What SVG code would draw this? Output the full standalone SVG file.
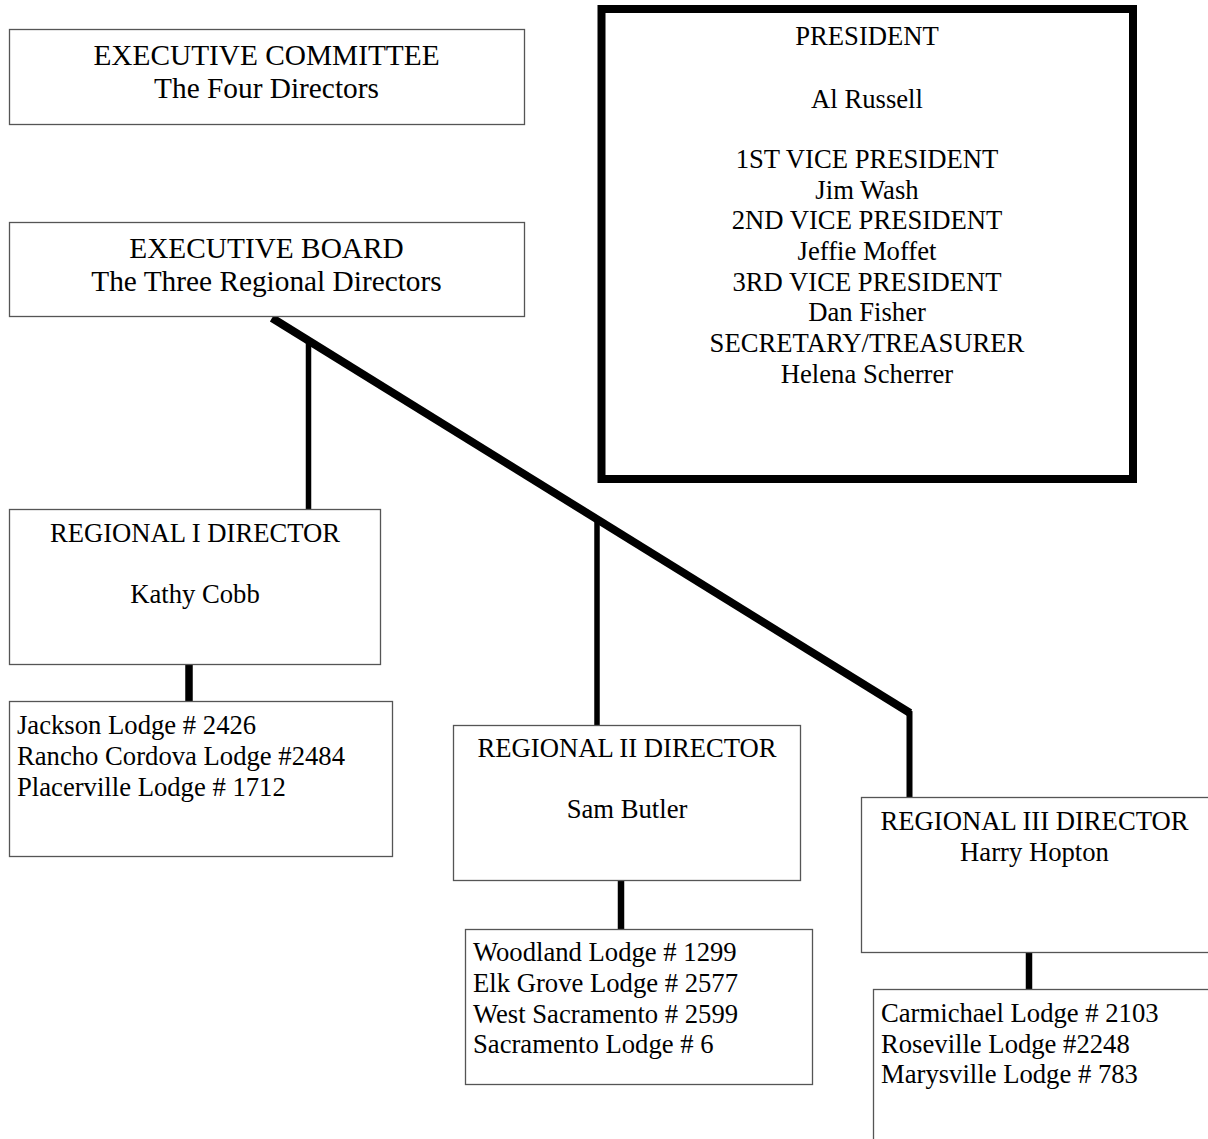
<svg xmlns="http://www.w3.org/2000/svg" width="1208" height="1139" viewBox="0 0 1208 1139">
<style>
text{font-family:"Liberation Serif","Times New Roman",serif;fill:#000}
.big{font-size:29.33px}
.t{font-size:26.67px}
.c{text-anchor:middle}
.box{fill:#fff;stroke:#555;stroke-width:1.3}
.ln{stroke:#000;fill:none}
</style>
<rect width="1208" height="1139" fill="#fff"/>
<g id="connectors">
<line class="ln" x1="272" y1="318" x2="910" y2="713" stroke-width="8"/>
<polyline class="ln" points="906,711 909.5,713 909.5,797" stroke-width="6"/>
<line class="ln" x1="308.5" y1="340" x2="308.5" y2="509" stroke-width="5.5"/>
<line class="ln" x1="597" y1="518" x2="597" y2="725" stroke-width="5.5"/>
<line class="ln" x1="189" y1="664" x2="189" y2="701" stroke-width="7.5"/>
<line class="ln" x1="621" y1="880" x2="621" y2="929" stroke-width="6.5"/>
<line class="ln" x1="1029" y1="952" x2="1029" y2="990" stroke-width="6.5"/>
</g>
<g id="exec-committee">
<rect class="box" x="9.5" y="29.5" width="515" height="95"/>
<text class="big c" x="266.5" y="65">EXECUTIVE COMMITTEE</text>
<text class="big c" x="266.5" y="97.5">The Four Directors</text>
</g>
<g id="exec-board">
<rect class="box" x="9.5" y="222.5" width="515" height="94"/>
<text class="big c" x="266.5" y="258">EXECUTIVE BOARD</text>
<text class="big c" x="266.5" y="290.5">The Three Regional Directors</text>
</g>
<g id="president">
<rect x="601.5" y="9" width="531.5" height="470" fill="#fff" stroke="#000" stroke-width="8"/>
<text class="t c" x="867" y="45">PRESIDENT</text>
<text class="t c" x="867" y="108">Al Russell</text>
<text class="t c" x="867" y="168">1ST VICE PRESIDENT</text>
<text class="t c" x="867" y="198.7">Jim Wash</text>
<text class="t c" x="867" y="229.3">2ND VICE PRESIDENT</text>
<text class="t c" x="867" y="260">Jeffie Moffet</text>
<text class="t c" x="867" y="290.7">3RD VICE PRESIDENT</text>
<text class="t c" x="867" y="321.3">Dan Fisher</text>
<text class="t c" x="867" y="352">SECRETARY/TREASURER</text>
<text class="t c" x="867" y="382.7">Helena Scherrer</text>
</g>
<g id="regional-1">
<rect class="box" x="9.5" y="509.5" width="371" height="155"/>
<text class="t c" x="195" y="542">REGIONAL I DIRECTOR</text>
<text class="t c" x="195" y="603">Kathy Cobb</text>
</g>
<g id="lodges-1">
<rect class="box" x="9.5" y="701.5" width="383" height="155"/>
<text class="t" x="17" y="734">Jackson Lodge # 2426</text>
<text class="t" x="17" y="765">Rancho Cordova Lodge #2484</text>
<text class="t" x="17" y="795.5">Placerville Lodge # 1712</text>
</g>
<g id="regional-2">
<rect class="box" x="453.5" y="725.5" width="347" height="155"/>
<text class="t c" x="627" y="757">REGIONAL II DIRECTOR</text>
<text class="t c" x="627" y="818">Sam Butler</text>
</g>
<g id="lodges-2">
<rect class="box" x="465.5" y="929.5" width="347" height="155"/>
<text class="t" x="473" y="961">Woodland Lodge # 1299</text>
<text class="t" x="473" y="992">Elk Grove Lodge # 2577</text>
<text class="t" x="473" y="1022.5">West Sacramento # 2599</text>
<text class="t" x="473" y="1053">Sacramento Lodge # 6</text>
</g>
<g id="regional-3">
<rect class="box" x="861.5" y="797.5" width="348" height="155"/>
<text class="t c" x="1034.5" y="829.5">REGIONAL III DIRECTOR</text>
<text class="t c" x="1034.5" y="861">Harry Hopton</text>
</g>
<g id="lodges-3">
<rect class="box" x="873.5" y="989.5" width="340" height="160"/>
<text class="t" x="881" y="1021.5">Carmichael Lodge # 2103</text>
<text class="t" x="881" y="1052.5">Roseville Lodge #2248</text>
<text class="t" x="881" y="1083">Marysville Lodge # 783</text>
</g>
</svg>
